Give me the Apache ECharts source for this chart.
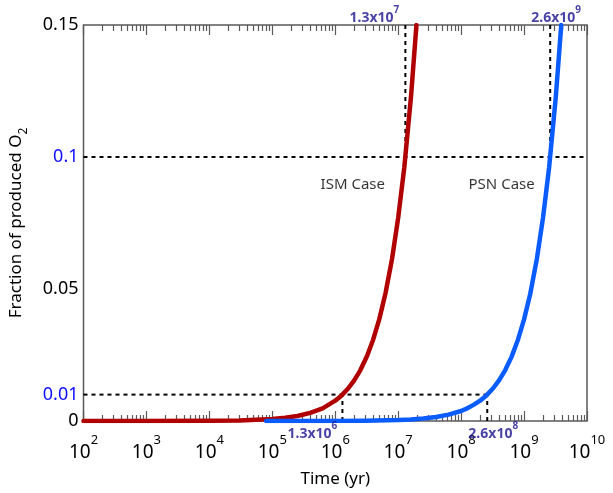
<!DOCTYPE html>
<html>
<head>
<meta charset="utf-8">
<script src="https://cdn.jsdelivr.net/npm/echarts@6/dist/echarts.min.js"></script>
<style>html,body{margin:0;padding:0;background:#fff}#c{width:613px;height:493px}</style>
</head>
<body>
<div id="c"></div>
<script>
// ISM case (red) values: time (yr) and fraction
const ismTime = [1e2, 1e3, 1e4, 3e4, 1e5, 1.6e5, 2.5e5, 4e5, 6.3e5, 1e6, 1.25e6, 1.6e6, 2e6, 2.5e6, 3.2e6, 4e6, 5e6, 6.3e6, 8e6, 1e7, 1.25e7, 1.6e7, 1.95e7];
const ismFrac = [0, 0.00001, 0.0001, 0.00023, 0.00077, 0.00123, 0.0019, 0.0031, 0.0048, 0.0077, 0.0096, 0.0123, 0.0154, 0.0192, 0.0246, 0.0308, 0.0385, 0.0485, 0.0615, 0.077, 0.096, 0.123, 0.15];
// PSN case (blue)
const psnTime = [8e4, 1e6, 3e6, 1e7, 1.6e7, 2.5e7, 4e7, 6.3e7, 1e8, 1.25e8, 1.6e8, 2e8, 2.5e8, 3.2e8, 4e8, 5e8, 6.3e8, 8e8, 1e9, 1.25e9, 1.6e9, 2e9, 2.5e9, 3.2e9, 3.9e9];
const psnFrac = [0, 0.00004, 0.00012, 0.00038, 0.0006, 0.00096, 0.0015, 0.0024, 0.0038, 0.0048, 0.0062, 0.0077, 0.0096, 0.0123, 0.0154, 0.0192, 0.0242, 0.0308, 0.0385, 0.048, 0.0615, 0.077, 0.096, 0.123, 0.15];

// dashed guide lines
const guideH1 = [[1e2, 0.1], [1e10, 0.1]];
const guideH2 = [[1e2, 0.01], [2.6e8, 0.01]];
const guideV = [
  [[1.3e6, 0], [1.3e6, 0.01]],
  [[2.6e8, 0], [2.6e8, 0.01]],
  [[1.3e7, 0.1], [1.3e7, 0.15]],
  [[2.6e9, 0.1], [2.6e9, 0.15]]
];

// annotations: [time, fraction, mantissa, exponent]
const annotBottom = [[1.3e6, 0, '1.3', '6'], [2.6e8, 0, '2.6', '8']];
const annotTop = [[1.3e7, 0.15, '1.3', '7'], [2.6e9, 0.15, '2.6', '9']];
const caseLabels = [[1.9e6, 0.0895, 'ISM Case'], [4.4e8, 0.0895, 'PSN Case']];

const yTicks = [0, 0.01, 0.05, 0.1, 0.15];
const yBlue = [0.01, 0.1];
const xDecades = [1e2, 1e3, 1e4, 1e5, 1e6, 1e7, 1e8, 1e9, 1e10];
const minorTicks = [];
for (let i = 0; i < xDecades.length - 1; i++) for (let k = 2; k <= 9; k++) minorTicks.push(xDecades[i] * k);

const FONT = 'Noto Sans';
const ANN = '#1a1390';

const zip = (a, b) => a.map((v, i) => [v, b[i]]);

const baseX = {
  type: 'log', logBase: 10, min: 1e2, max: 1e10,
  splitLine: { show: false }, axisLine: { show: false }
};

const dashed = { color: '#000', width: 2, type: [4, 4] };
const series = [];
series.push({ type: 'line', data: guideH1, symbol: 'none', lineStyle: dashed, z: 1, silent: true });
series.push({ type: 'line', data: guideH2, symbol: 'none', lineStyle: dashed, z: 1, silent: true });
guideV.forEach(d => series.push({ type: 'line', data: d, symbol: 'none', lineStyle: dashed, z: 1, silent: true }));
series.push({ type: 'line', name: 'ISM', data: zip(ismTime, ismFrac), symbol: 'none', smooth: false, lineStyle: { color: '#b00000', width: 4.5, join: 'round', cap: 'round' }, z: 3 });
series.push({ type: 'line', name: 'PSN', data: zip(psnTime, psnFrac), symbol: 'none', smooth: false, lineStyle: { color: '#0a5cff', width: 4.5, join: 'round', cap: 'round' }, z: 4 });

const annRich = {
  m: { fontFamily: FONT, fontWeight: 'bold', fontSize: 14, color: ANN, lineHeight: 20, verticalAlign: 'bottom' },
  e: { fontFamily: FONT, fontWeight: 'bold', fontSize: 10, color: ANN, lineHeight: 12, verticalAlign: 'top' }
};
const annFmt = p => '{m|' + p.data.txt[2] + 'x10}{e|' + p.data.txt[3] + '}';
series.push({
  type: 'scatter', symbolSize: 0, silent: true, clip: false, z: 5,
  data: annotBottom.map((a, i) => ({ value: [a[0], a[1]], label: { offset: i === 0 ? [-30, 0] : [6, 0] }, txt: a })),
  label: { show: true, position: 'bottom', distance: 0, color: ANN, fontWeight: 'bold', formatter: annFmt, rich: annRich }
});
series.push({
  type: 'scatter', symbolSize: 0, silent: true, clip: false, z: 5,
  data: annotTop.map((a, i) => ({ value: [a[0], a[1]], label: { offset: i === 0 ? [-31, 0] : [6, 0] }, txt: a })),
  label: { show: true, position: 'top', distance: 0, color: ANN, fontWeight: 'bold', formatter: annFmt, rich: annRich }
});
series.push({
  type: 'scatter', symbolSize: 0, silent: true, z: 5,
  data: caseLabels.map(c => ({ value: [c[0], c[1]], txt: c[2] })),
  label: { show: true, position: 'inside', formatter: p => p.data.txt, fontFamily: FONT, fontSize: 15, color: '#000', textBorderWidth: 0 }
});

const chart = echarts.init(document.getElementById('c'));
chart.setOption({
  backgroundColor: '#fff',
  animation: false,
  grid: { left: 82, right: 26, top: 25, bottom: 71, show: true, borderColor: '#5a5a5a', borderWidth: 1.5, backgroundColor: 'transparent' },
  xAxis: [
    Object.assign({}, baseX, {
      position: 'bottom',
      name: 'Time (yr)', nameLocation: 'middle', nameGap: 50,
      nameTextStyle: { fontFamily: FONT, fontSize: 17, color: '#000' },
      axisTick: { show: true, inside: true, length: 10, lineStyle: { color: '#5a5a5a', width: 1.2 }, customValues: xDecades },
      axisLabel: { show: true, margin: 13, customValues: xDecades,
        formatter: v => '{b|10}{s|' + Math.round(Math.log10(v)) + '}',
        rich: {
          b: { fontFamily: FONT, fontSize: 19, color: '#000', verticalAlign: 'bottom', lineHeight: 28 },
          s: { fontFamily: FONT, fontSize: 13, color: '#000', verticalAlign: 'top', lineHeight: 14 }
        } }
    }),
    Object.assign({}, baseX, {
      position: 'bottom',
      axisTick: { show: true, inside: true, length: 6, lineStyle: { color: '#5a5a5a', width: 1.2 }, customValues: minorTicks },
      axisLabel: { show: false }
    }),
    Object.assign({}, baseX, {
      position: 'top',
      axisTick: { show: true, inside: true, length: 10, lineStyle: { color: '#5a5a5a', width: 1.2 }, customValues: xDecades },
      axisLabel: { show: false }
    }),
    Object.assign({}, baseX, {
      position: 'top',
      axisTick: { show: true, inside: true, length: 6, lineStyle: { color: '#5a5a5a', width: 1.2 }, customValues: minorTicks },
      axisLabel: { show: false }
    })
  ],
  yAxis: [{
    type: 'value', min: 0, max: 0.15,
    splitLine: { show: false }, axisLine: { show: false }, axisTick: { show: false },
    name: '{a|Fraction of produced O}{s|2}', nameLocation: 'middle', nameGap: 54, nameRotate: 90,
    nameTextStyle: { rich: {
      a: { fontFamily: FONT, fontSize: 17, color: '#000', lineHeight: 26, verticalAlign: 'middle' },
      s: { fontFamily: FONT, fontSize: 12, color: '#000', lineHeight: 12, verticalAlign: 'bottom' }
    } },
    axisLabel: { show: true, margin: 5, customValues: yTicks,
      formatter: v => (yBlue.indexOf(v) >= 0 ? '{bl|' : '{bk|') + v + '}',
      rich: {
        bl: { fontFamily: FONT, fontSize: 18, color: '#1010ff' },
        bk: { fontFamily: FONT, fontSize: 18, color: '#000' }
      } }
  }],
  series: series
});
</script>
</body>
</html>
